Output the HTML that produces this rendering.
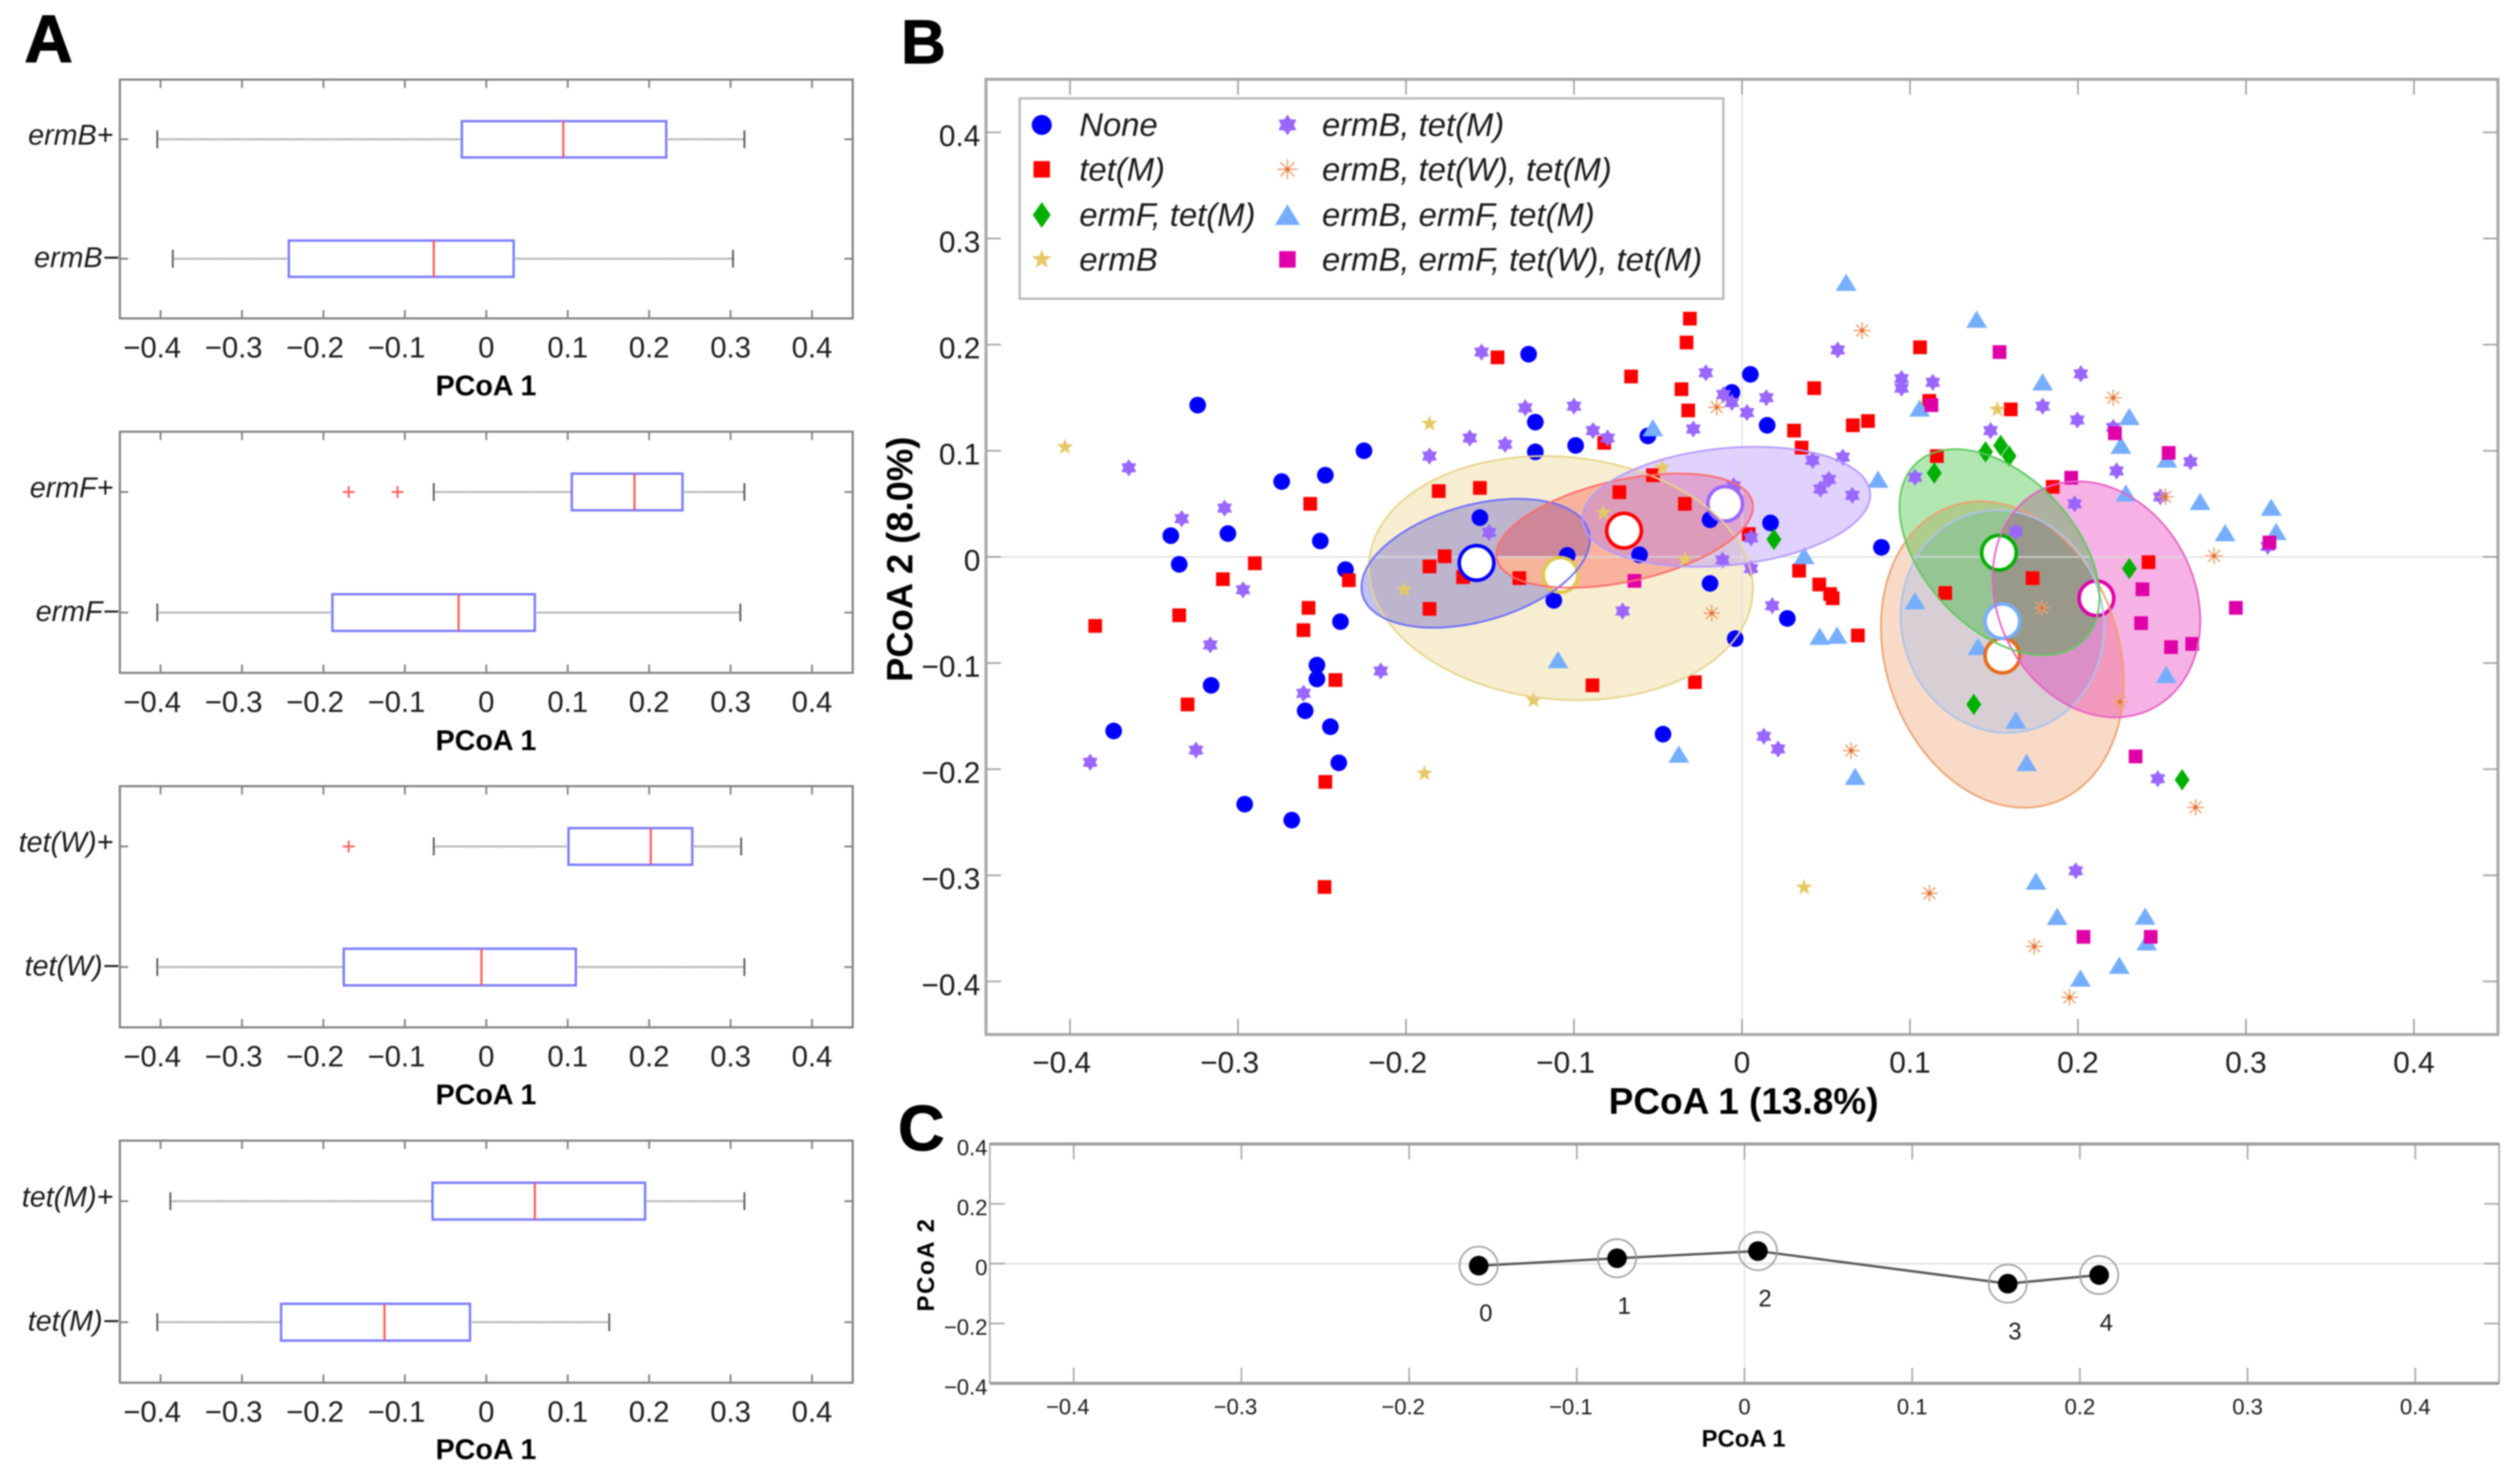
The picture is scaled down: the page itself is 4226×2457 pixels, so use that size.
<!DOCTYPE html>
<html lang="en">
<head>
<meta charset="utf-8">
<title>PCoA figure</title>
<style>
html,body{margin:0;padding:0;background:#fff;}
svg{display:block;filter:blur(1.3px);}
text{font-family:"Liberation Sans",sans-serif;fill:#1a1a1a;}
.title{font-weight:bold;fill:#000;}
.leg{font-style:italic;font-size:55px;}
</style>
</head>
<body>
<svg id="figure" xmlns="http://www.w3.org/2000/svg" width="4226" height="2457" viewBox="0 0 4226 2457">
<rect x="0" y="0" width="4226" height="2457" fill="#fff"/>
<g id="panelA"></g>
<g id="panelB"></g>
<g id="panelC"></g>

<text class="title" x="41" y="104" font-size="112" stroke="#000" stroke-width="2">A</text>
<text class="title" x="1511" y="106" font-size="104" stroke="#000" stroke-width="1.5">B</text>
<text class="title" x="1506" y="1929" font-size="108" stroke="#000" stroke-width="1.5">C</text>

<text class="title" x="815" y="663" font-size="48" text-anchor="middle">PCoA 1</text>
<text class="title" x="815" y="1258" font-size="48" text-anchor="middle">PCoA 1</text>
<text class="title" x="815" y="1852" font-size="48" text-anchor="middle">PCoA 1</text>
<text class="title" x="815" y="2447" font-size="48" text-anchor="middle">PCoA 1</text>

<text class="title" x="2924" y="1868" font-size="62" text-anchor="middle">PCoA 1 (13.8%)</text>
<text class="title" transform="translate(1530,938) rotate(-90)" font-size="61" text-anchor="middle">PCoA 2 (8.0%)</text>
<text class="title" x="2924" y="2426" font-size="40" text-anchor="middle">PCoA 1</text>
<text class="title" transform="translate(1566,2122) rotate(-90)" font-size="40" text-anchor="middle" textLength="155">PCoA 2</text>

<g id="legend">
<rect x="1710" y="165" width="1180" height="336" fill="#fff" stroke="#bbb" stroke-width="4"/>
<text class="leg" x="1810" y="228">None</text>
<text class="leg" x="1810" y="303">tet(M)</text>
<text class="leg" x="1810" y="379">ermF, tet(M)</text>
<text class="leg" x="1810" y="454">ermB</text>
<text class="leg" x="2217" y="228">ermB, tet(M)</text>
<text class="leg" x="2217" y="303">ermB, tet(W), tet(M)</text>
<text class="leg" x="2217" y="379">ermB, ermF, tet(M)</text>
<text class="leg" x="2217" y="454">ermB, ermF, tet(W), tet(M)</text>
</g>

<script>
// ---------- shared tick data ----------
const tickValues = [-0.4,-0.3,-0.2,-0.1,0,0.1,0.2,0.3,0.4];
const tickLabels = ['−0.4','−0.3','−0.2','−0.1','0','0.1','0.2','0.3','0.4'];
const cYTickValues = [-0.4,-0.2,0,0.2,0.4];
const cYTickLabels = ['−0.4','−0.2','0','0.2','0.4'];

// ---------- panel A: box plots ----------
const boxLabels = ['ermB+','ermB−','ermF+','ermF−','tet(W)+','tet(W)−','tet(M)+','tet(M)−'];
const boxWhiskerLow = [-0.404,-0.385,-0.0645,-0.404,-0.0645,-0.404,-0.388,-0.404];
const boxQ1 = [-0.030,-0.2425,0.105,-0.189,0.101,-0.175,-0.066,-0.252];
const boxMedian = [0.0946,-0.0645,0.182,-0.034,0.202,-0.006,0.0596,-0.125];
const boxQ3 = [0.221,0.0336,0.241,0.0596,0.253,0.110,0.195,-0.020];
const boxWhiskerHigh = [0.317,0.303,0.317,0.312,0.313,0.317,0.317,0.151];
const outlierBox = [2,2,4];
const outlierValue = [-0.169,-0.109,-0.169];

// ---------- panel B: scatter series ----------
const noneX = [-0.324,-0.127,-0.123,-0.225,-0.123,-0.099,-0.056,-0.248,-0.274,-0.156,-0.340,-0.306,-0.251,-0.335,-0.236,-0.104,-0.061,-0.112,-0.239,-0.253,-0.253,-0.316,-0.260,-0.245,-0.374,-0.240,-0.296,-0.268,0.005,-0.006,0.015,-0.019,0.017,0.083,-0.019,0.027,-0.004,-0.047];
const noneY = [0.143,0.191,0.127,0.100,0.099,0.105,0.114,0.077,0.071,0.037,0.020,0.022,0.015,-0.007,-0.012,0.0014,0.002,-0.041,-0.061,-0.102,-0.115,-0.121,-0.145,-0.160,-0.164,-0.194,-0.233,-0.248,0.172,0.155,0.124,0.035,0.032,0.009,-0.025,-0.058,-0.077,-0.167];
const tetMX = [-0.1455,-0.066,-0.082,-0.053,-0.1805,-0.156,-0.073,-0.257,-0.177,-0.186,-0.290,-0.309,-0.234,-0.166,-0.1325,-0.186,-0.258,-0.335,-0.261,-0.385,-0.242,-0.089,-0.330,-0.248,-0.2485,-0.031,-0.033,-0.036,0.043,-0.032,0.075,0.066,0.031,0.0355,-0.034,0.004,0.034,0.046,0.0525,0.054,0.069,-0.028,0.106,0.1115,0.116,0.160,0.185,0.121,0.173,0.242];
const tetMY = [0.188,0.170,0.1075,0.077,0.062,0.065,0.061,0.050,0.0006,-0.009,-0.006,-0.021,-0.022,-0.019,-0.020,-0.049,-0.048,-0.055,-0.069,-0.065,-0.116,-0.121,-0.139,-0.212,-0.311,0.2245,0.202,0.158,0.159,0.138,0.128,0.124,0.119,0.103,0.050,0.0215,-0.013,-0.026,-0.035,-0.039,-0.074,-0.118,0.1975,0.147,0.095,0.139,0.066,-0.034,-0.020,-0.005];
const ermFTetMX = [0.019,0.1145,0.145,0.154,0.159,0.2306,0.138,0.262];
const ermFTetMY = [0.0165,0.079,0.099,0.105,0.095,-0.011,-0.139,-0.210];
const ermBX = [-0.403,-0.186,-0.201,-0.0825,-0.124,-0.189,-0.0475,-0.034,0.152,0.037];
const ermBY = [0.1035,0.1256,-0.031,0.0416,-0.135,-0.204,0.084,-0.0025,0.139,-0.3114];
const ermBTetMX = [-0.155,-0.129,-0.100,-0.0887,-0.080,-0.162,-0.141,-0.186,-0.365,-0.308,-0.3335,-0.1505,-0.297,-0.071,-0.3165,-0.215,-0.261,-0.325,-0.388,-0.0215,-0.011,-0.006,0.0145,0.003,-0.029,0.057,0.095,0.095,0.1136,0.042,0.060,0.0517,0.0467,0.0657,-0.005,0.103,0.0054,-0.0116,0.0054,0.018,0.013,0.0215,0.148,0.179,0.2017,0.1996,0.223,0.221,0.267,0.249,0.198,0.163,0.313,0.2475,0.1987];
const ermBTetMY = [0.193,0.1405,0.142,0.119,0.112,0.112,0.106,0.095,0.084,0.046,0.036,0.023,-0.031,-0.051,-0.083,-0.1075,-0.1285,-0.182,-0.1935,0.1735,0.153,0.1455,0.150,0.136,0.1205,0.195,0.168,0.159,0.1645,0.091,0.094,0.073,0.064,0.058,0.067,0.075,0.018,-0.003,-0.011,-0.046,-0.169,-0.181,0.119,0.142,0.1725,0.129,0.081,0.122,0.0896,0.0566,0.050,0.024,0.010,-0.209,-0.2957];
const ermBTetWTetMX = [0.0715,-0.015,0.221,0.252,0.281,0.1785,-0.018,0.225,0.065,0.270,0.1116,0.174,0.195];
const ermBTetWTetMY = [0.2133,0.141,0.150,0.0566,0.001,-0.048,-0.053,-0.1366,-0.1825,-0.236,-0.317,-0.367,-0.415];
const ermBErmFTetMX = [0.062,0.1397,0.179,0.1058,0.2306,0.2256,0.253,-0.053,0.081,0.2285,0.2727,0.315,0.318,0.2876,0.037,0.103,0.0463,0.0566,0.1405,-0.1095,0.2525,0.163,-0.0376,0.1694,0.0674,0.175,0.1876,0.240,0.241,0.2246,0.2015];
const ermBErmFTetMY = [0.2585,0.2237,0.1646,0.140,0.132,0.105,0.092,0.1215,0.073,0.060,0.052,0.0466,0.0237,0.0226,0.001,-0.0416,-0.075,-0.074,-0.0846,-0.097,-0.111,-0.154,-0.186,-0.194,-0.207,-0.3057,-0.339,-0.3387,-0.363,-0.385,-0.397];
const allFourX = [0.1533,0.1128,0.222,0.254,0.196,0.314,-0.064,0.2384,0.294,0.2376,0.268,0.2554,0.2343,0.2033,0.2433];
const allFourY = [0.193,0.143,0.1165,0.098,0.0746,0.0136,-0.0226,-0.0305,-0.048,-0.0624,-0.082,-0.085,-0.188,-0.358,-0.358];

// group ellipses, painted in this order: ermB, None, tet(M), ermB+tet(M), ermB+tet(W)+tet(M), ermB+ermF+tet(M), all four, ermF+tet(M)
const ellipseCenterX = [-0.1078,-0.1585,-0.0698,-0.0093,0.155,0.155,0.211,0.1533];
const ellipseCenterY = [-0.020,-0.006,0.0247,0.0472,-0.092,-0.0608,-0.040,0.0045];
const ellipseHalfX = [0.1143,0.068,0.0764,0.0857,0.0723,0.0605,0.0618,0.0595];
const ellipseHalfY = [0.115,0.0607,0.0538,0.0565,0.1443,0.1049,0.1112,0.097];
const ellipseCorr = [-0.087,0.37,0.42,0.2,-0.18,-0.05,-0.18,-0.44];
const ellipseFills = ['#e6c866','#0000c0','#ff0000','#9966ff','#e86a1a','#75aeff','#e000a8','#00b000'];
const ellipseAlpha = [0.3,0.24,0.25,0.3,0.25,0.25,0.3,0.3];
const ellipseStrokes = ['#e6d48c','#6a6aff','#ff6a6a','#b49aff','#eea070','#aac4ee','#e860c4','#60c860'];

const centroidX = [-0.108,-0.158,-0.0702,-0.010,0.155,0.155,0.211,0.153];
const centroidY = [-0.017,-0.0057,0.0247,0.050,-0.093,-0.0606,-0.039,0.004];
const centroidColors = ['#e0c850','#0000ff','#ff0000','#9966ff','#e86a1a','#75aeff','#e000a8','#00b000'];

// ---------- panel C: trajectory ----------
const trajX = [-0.1585,-0.076,0.008,0.157,0.2115];
const trajY = [-0.0067,0.018,0.042,-0.067,-0.038];
const trajLabels = ['0','1','2','3','4'];

// ---------- helpers ----------
const SVGNS = 'http://www.w3.org/2000/svg';
function el(tag, attrs, parent, text) {
  const n = document.createElementNS(SVGNS, tag);
  for (const k in attrs) n.setAttribute(k, attrs[k]);
  if (text !== undefined) n.textContent = text;
  parent.appendChild(n);
  return n;
}
function scale(d0, d1, r0, r1) {
  return v => r0 + (v - d0) / (d1 - d0) * (r1 - r0);
}
function frameAxes(g, box, xFn, yFn, yTicks, stroke, sw, tickX, tickY, tickStroke, tickSw) {
  const fr = el('rect', {x:box.l, y:box.t, width:box.r-box.l, height:box.b-box.t, fill:'none', stroke:stroke, 'stroke-width':sw}, g);
  
  
  tickValues.forEach(v => {
    const X = xFn(v);
    const t1 = el('line', {x1:X, x2:X, y1:box.b, y2:box.b-tickX, stroke:tickStroke, 'stroke-width':tickSw}, g);
    
    
    const t2 = el('line', {x1:X, x2:X, y1:box.t, y2:box.t+tickX, stroke:tickStroke, 'stroke-width':tickSw}, g);
    
    
  });
  yTicks.forEach(Y => {
    const t1 = el('line', {x1:box.l, x2:box.l+tickY, y1:Y, y2:Y, stroke:tickStroke, 'stroke-width':tickSw}, g);
    
    
    const t2 = el('line', {x1:box.r, x2:box.r-tickY, y1:Y, y2:Y, stroke:tickStroke, 'stroke-width':tickSw}, g);
    
    
  });
}
function xTickLabels(g, xFn, baseline, size, shift) {
  tickValues.forEach((v, i) => {
    const t = el('text', {x:xFn(v) - (v < 0 ? shift : 0), y:baseline, 'font-size':size, 'text-anchor':'middle'}, g, tickLabels[i]);
    
    
  });
}
function poly(points) {
  return points.map(p => p[0].toFixed(1) + ',' + p[1].toFixed(1)).join(' ');
}
function starPoints(X, Y, outer, inner, n) {
  const pts = [];
  for (let i = 0; i < n * 2; i++) {
    const r = i % 2 ? inner : outer;
    const a = -Math.PI / 2 + i * Math.PI / n;
    pts.push([X + r * Math.cos(a), Y + r * Math.sin(a)]);
  }
  return pts;
}
function marker(g, kind, color, X, Y, s) {
  if (kind === 'circle') return el('circle', {cx:X, cy:Y, r:14*s, fill:color}, g);
  if (kind === 'square') return el('rect', {x:X-11.5*s, y:Y-11.5*s, width:23*s, height:23*s, fill:color}, g);
  if (kind === 'diamond') return el('polygon', {points:poly([[X,Y-18*s],[X+12.5*s,Y],[X,Y+18*s],[X-12.5*s,Y]]), fill:color}, g);
  if (kind === 'star') return el('polygon', {points:poly(starPoints(X, Y, 14.5*s, 6*s, 5)), fill:color}, g);
  if (kind === 'hexagram') return el('polygon', {points:poly(starPoints(X, Y, 14.5*s, 9*s, 6)), fill:color}, g);
  if (kind === 'triangle') return el('polygon', {points:poly([[X,Y-15*s],[X+17.5*s,Y+14*s],[X-17.5*s,Y+14*s]]), fill:color}, g);
  const a = el('g', {stroke:color, 'stroke-width':2.4}, g);
  for (let i = 0; i < 8; i++) {
    const ang = i * Math.PI / 4;
    const arm = el('line', {x1:X, y1:Y, x2:X + 14*s*Math.cos(ang), y2:Y + 14*s*Math.sin(ang)}, a);
    
    
  }
  const dot = el('circle', {cx:X, cy:Y, r:3.5, fill:'#e07030', stroke:'none'}, a);
  
  
  return a;
}

// ---------- draw panel A ----------
(function () {
  const g = document.getElementById('panelA');
  const panels = [{t:133.5,b:534},{t:724,b:1128.5},{t:1318.5,b:1723},{t:1913,b:2319}];
  const xA = scale(-0.45, 0.45, 201, 1430);
  panels.forEach((p, pi) => {
    const box = {l:201, r:1430, t:p.t, b:p.b};
    const rowY = [p.t + (p.b - p.t) * 0.25, p.t + (p.b - p.t) * 0.75];
    frameAxes(g, box, xA, null, rowY, '#808080', 3.5, 14, 14, '#808080', 3);
    xTickLabels(g, xA, p.b + 65.5, 49, 14);
    rowY.forEach((Y, ri) => {
      const i = pi * 2 + ri;
      const lab = el('text', {x: ri ? 200 : 190, y: Y + (ri ? 14 : 9), 'font-size':48, 'font-style':'italic', 'text-anchor':'end'}, g, boxLabels[i]);
      
      
      const hh = (p.b - p.t) * 0.076;
      const w1 = el('line', {x1:xA(boxWhiskerLow[i]), x2:xA(boxQ1[i]), y1:Y, y2:Y, stroke:'#777', 'stroke-width':3.5, 'stroke-dasharray':'2 2'}, g);
      
      
      const w2 = el('line', {x1:xA(boxQ3[i]), x2:xA(boxWhiskerHigh[i]), y1:Y, y2:Y, stroke:'#777', 'stroke-width':3.5, 'stroke-dasharray':'2 2'}, g);
      
      
      const c1 = el('line', {x1:xA(boxWhiskerLow[i]), x2:xA(boxWhiskerLow[i]), y1:Y-15, y2:Y+15, stroke:'#555', 'stroke-width':3}, g);
      
      
      const c2 = el('line', {x1:xA(boxWhiskerHigh[i]), x2:xA(boxWhiskerHigh[i]), y1:Y-15, y2:Y+15, stroke:'#555', 'stroke-width':3}, g);
      
      
      const bx = el('rect', {x:xA(boxQ1[i]), y:Y-hh, width:xA(boxQ3[i])-xA(boxQ1[i]), height:hh*2, fill:'#fff', stroke:'#7a7aff', 'stroke-width':4}, g);
      
      
      const md = el('line', {x1:xA(boxMedian[i]), x2:xA(boxMedian[i]), y1:Y-hh, y2:Y+hh, stroke:'#ff5555', 'stroke-width':3.5}, g);
      
      
      outlierBox.forEach((b, oi) => {
        if (b !== i) return;
        const OX = xA(outlierValue[oi]);
        const o1 = el('line', {x1:OX-10, x2:OX+10, y1:Y, y2:Y, stroke:'#ff5555', 'stroke-width':3}, g);
        
        
        const o2 = el('line', {x1:OX, x2:OX, y1:Y-10, y2:Y+10, stroke:'#ff5555', 'stroke-width':3}, g);
        
        
      });
    });
  });
})();

// ---------- draw panel B ----------
(function () {
  const g = document.getElementById('panelB');
  const box = {l:1653.5, r:4189, t:133, b:1735};
  const xB = scale(-0.45, 0.45, box.l, box.r);
  const yB = scale(-0.45, 0.45, box.b, box.t);

  function ellipsePath(i) {
    const a = ellipseHalfX[i], b = ellipseHalfY[i], rho = ellipseCorr[i];
    const q = Math.sqrt(1 - rho * rho);
    let d = '';
    for (let k = 0; k < 96; k++) {
      const t = k / 96 * 2 * Math.PI;
      const X = xB(ellipseCenterX[i] + a * Math.cos(t));
      const Y = yB(ellipseCenterY[i] + b * (rho * Math.cos(t) + q * Math.sin(t)));
      d += (k ? 'L' : 'M') + X.toFixed(1) + ' ' + Y.toFixed(1);
    }
    return d + 'Z';
  }

  const defs = el('defs', {}, g);
  const cpBlue = el('clipPath', {id:'clipNone'}, defs);
  const cpBluePath = el('path', {d:ellipsePath(1)}, cpBlue);
  
  
  const cpBelow = el('clipPath', {id:'clipBelowZero'}, defs);
  const cpBelowRect = el('rect', {x:box.l, y:yB(0), width:box.r-box.l, height:box.b-yB(0)}, cpBelow);
  
  

  ellipseCenterX.forEach((_, i) => {
    const e = el('path', {d:ellipsePath(i), fill:ellipseFills[i], 'fill-opacity':ellipseAlpha[i]}, g);
    
    
    if (i === 2) {
      const outer = el('g', {'clip-path':'url(#clipNone)'}, g);
      
      
      const inner = el('g', {'clip-path':'url(#clipBelowZero)'}, outer);
      
      
      const patch = el('path', {d:ellipsePath(2), fill:'#f6b59b'}, inner);
      
      
    }
  });

  const zh = el('line', {x1:box.l, x2:box.r, y1:yB(0), y2:yB(0), stroke:'#dcdcdc', 'stroke-width':3, 'stroke-opacity':0.75}, g);
  
  
  const zv = el('line', {x1:xB(0), x2:xB(0), y1:box.t, y2:box.b, stroke:'#dcdcdc', 'stroke-width':2.5, 'stroke-opacity':0.75}, g);
  
  

  const yPix = tickValues.map(v => yB(v));
  frameAxes(g, box, xB, yB, yPix, '#a8a8a8', 5, 26, 25, '#999', 2.5);
  xTickLabels(g, xB, 1799, 50, 14);
  tickValues.forEach((v, i) => {
    const t = el('text', {x:1644, y:yB(v)+23, 'font-size':50, 'text-anchor':'end'}, g, tickLabels[i]);
    
    
  });

  const series = [
    {kind:'circle', color:'#0000ff', xs:noneX, ys:noneY, lx:1747, ly:209.5},
    {kind:'square', color:'#ff0000', xs:tetMX, ys:tetMY, lx:1747, ly:284},
    {kind:'diamond', color:'#00b000', xs:ermFTetMX, ys:ermFTetMY, lx:1747, ly:360.5},
    {kind:'star', color:'#e6c866', xs:ermBX, ys:ermBY, lx:1747, ly:435},
    {kind:'hexagram', color:'#9966ff', xs:ermBTetMX, ys:ermBTetMY, lx:2159, ly:209.5},
    {kind:'asterisk', color:'#f0a070', xs:ermBTetWTetMX, ys:ermBTetWTetMY, lx:2159, ly:284},
    {kind:'triangle', color:'#75aeff', xs:ermBErmFTetMX, ys:ermBErmFTetMY, lx:2159, ly:360.5},
    {kind:'square', color:'#e000a8', xs:allFourX, ys:allFourY, lx:2159, ly:435}
  ];
  series.forEach(s => {
    s.xs.forEach((v, i) => {
      const m = marker(g, s.kind, s.color, xB(v), yB(s.ys[i]), 1);
      
      
    });
  });

  centroidX.forEach((v, i) => {
    const c = el('circle', {cx:xB(v), cy:yB(centroidY[i]), r:29, fill:'#fff', stroke:centroidColors[i], 'stroke-width':6}, g);
    
    
  });

  ellipseCenterX.forEach((_, i) => {
    const o = el('path', {d:ellipsePath(i), fill:'none', stroke:ellipseStrokes[i], 'stroke-width':3}, g);
    
    
  });

  const lg = document.getElementById('legend');
  series.forEach(s => {
    const m = marker(lg, s.kind, s.color, s.lx, s.ly, 1.2);
    
    
  });
})();

// ---------- draw panel C ----------
(function () {
  const g = document.getElementById('panelC');
  const box = {l:1660, r:4191, t:1918.6, b:2320};
  const xC = scale(-0.45, 0.45, box.l, box.r);
  const yC = scale(-0.4, 0.4, box.b, box.t);

  const zh = el('line', {x1:box.l, x2:box.r, y1:yC(0), y2:yC(0), stroke:'#e4e4e4', 'stroke-width':3}, g);
  
  
  const zv = el('line', {x1:xC(0), x2:xC(0), y1:box.t, y2:box.b, stroke:'#e4e4e4', 'stroke-width':2.5}, g);
  
  

  frameAxes(g, box, xC, yC, cYTickValues.map(v => yC(v)), '#a0a0a0', 2.5, 26, 25, '#a0a0a0', 2.5);
  [box.t, box.b].forEach(Y => {
    const edge = el('line', {x1:box.l, x2:box.r, y1:Y, y2:Y, stroke:'#999', 'stroke-width':5}, g);
    
    
  });

  xTickLabels(g, xC, 2372, 37, 10);
  cYTickValues.forEach((v, i) => {
    const t = el('text', {x:1656, y:yC(v)+19, 'font-size':37, 'text-anchor':'end'}, g, cYTickLabels[i]);
    
    
  });

  const line = el('polyline', {points:poly(trajX.map((v, i) => [xC(v), yC(trajY[i])])), fill:'none', stroke:'#555', 'stroke-width':4}, g);
  
  

  trajX.forEach((v, i) => {
    const X = xC(v), Y = yC(trajY[i]);
    const ring = el('circle', {cx:X, cy:Y, r:32, fill:'none', stroke:'#999', 'stroke-width':2.5}, g);
    
    
    const dot = el('circle', {cx:X, cy:Y, r:16.5, fill:'#000'}, g);
    
    
    const lab = el('text', {x:X+12, y:Y+93, 'font-size':40, 'text-anchor':'middle'}, g, trajLabels[i]);
    
    
  });
})();
</script>
</svg>
</body>
</html>
